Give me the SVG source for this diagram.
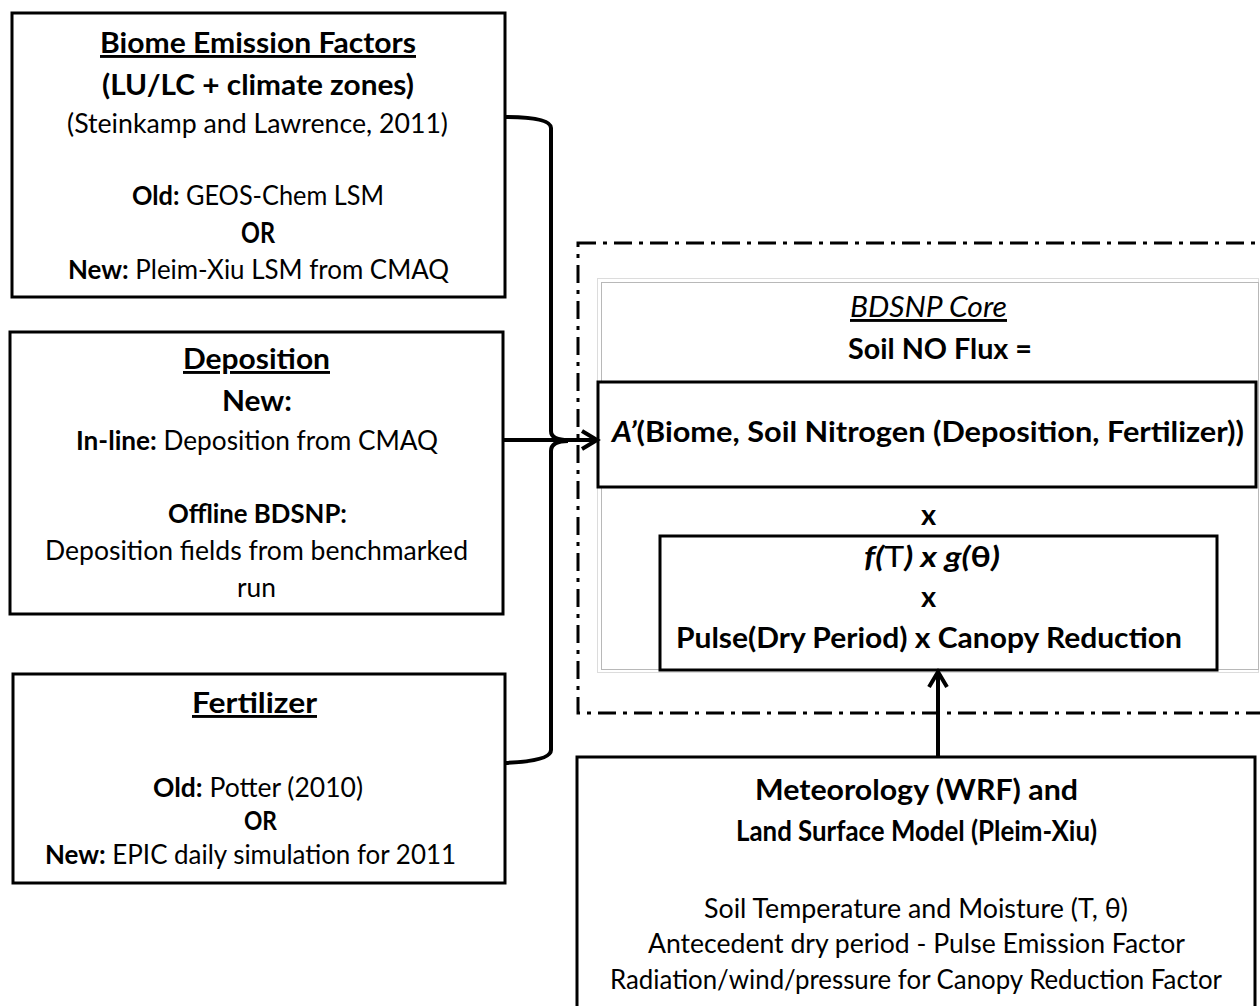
<svg xmlns="http://www.w3.org/2000/svg" width="1260" height="1006" viewBox="0 0 1260 1006">
<defs>
<style>
.box{fill:#fff;stroke:#000;stroke-width:3}
.t{font-family:Lato,'Open Sans','Liberation Sans',sans-serif;fill:#000}
.r{font-size:26px}
.b{font-size:29px;font-weight:bold}
.u{text-decoration:underline}
.bo{font-weight:bold}
.conn{fill:none;stroke:#000;stroke-width:4}
</style>
<marker id="arr" markerUnits="userSpaceOnUse" markerWidth="24" markerHeight="24" viewBox="-20 -12 24 24" refX="0" refY="0" orient="auto">
<path d="M-15,-9 L0,0 L-15,9" fill="none" stroke="#000" stroke-width="4"/>
</marker>
</defs>
<rect width="1260" height="1006" fill="#fff"/>

<g id="core-frame">
<rect x="578" y="243" width="720" height="470" fill="none" stroke="#000" stroke-width="3" stroke-dasharray="18 7 4 7"/>
<rect x="597.5" y="278.5" width="661" height="394" fill="none" stroke="#dcdcdc" stroke-width="1"/>
<rect x="601.5" y="282.5" width="657" height="387" fill="none" stroke="#b8b8b8" stroke-width="1"/>
<text class="t u" x="850" y="317" font-size="29" font-style="italic" textLength="157" lengthAdjust="spacingAndGlyphs">BDSNP Core</text>
<text class="t b" x="848" y="359" textLength="184" lengthAdjust="spacingAndGlyphs">Soil NO Flux =</text>
<text class="t b" x="921" y="525">x</text>
</g>

<g id="biome">
<rect class="box" x="12" y="13" width="493" height="284"/>
<text class="t b u" x="100" y="53" textLength="316" lengthAdjust="spacingAndGlyphs">Biome Emission Factors</text>
<text class="t b" x="102" y="95" textLength="312" lengthAdjust="spacingAndGlyphs">(LU/LC + climate zones)</text>
<text class="t r" x="67" y="133" textLength="381" lengthAdjust="spacingAndGlyphs">(Steinkamp and Lawrence, 2011)</text>
<text class="t r" x="132" y="205" textLength="252" lengthAdjust="spacingAndGlyphs"><tspan class="bo">Old:</tspan> GEOS-Chem LSM</text>
<text class="t b" x="241" y="243" textLength="34" lengthAdjust="spacingAndGlyphs">OR</text>
<text class="t r" x="68" y="279" textLength="381" lengthAdjust="spacingAndGlyphs"><tspan class="bo">New:</tspan> Pleim-Xiu LSM from CMAQ</text>
</g>

<g id="deposition">
<rect class="box" x="10" y="332" width="493" height="282"/>
<text class="t b u" x="183" y="369" textLength="147" lengthAdjust="spacingAndGlyphs">Deposition</text>
<text class="t b" x="222" y="411" textLength="70" lengthAdjust="spacingAndGlyphs">New:</text>
<text class="t r" x="76" y="450" textLength="362" lengthAdjust="spacingAndGlyphs"><tspan class="bo">In-line:</tspan> Deposition from CMAQ</text>
<text class="t r bo" x="168" y="523" textLength="179" lengthAdjust="spacingAndGlyphs">Offline BDSNP:</text>
<text class="t r" x="45" y="560" textLength="423" lengthAdjust="spacingAndGlyphs">Deposition fields from benchmarked</text>
<text class="t r" x="237" y="597" textLength="39" lengthAdjust="spacingAndGlyphs">run</text>
</g>

<g id="fertilizer">
<rect class="box" x="13" y="674" width="492" height="209"/>
<text class="t b u" x="192" y="713" textLength="125" lengthAdjust="spacingAndGlyphs">Fertilizer</text>
<text class="t r" x="153" y="797" textLength="210" lengthAdjust="spacingAndGlyphs"><tspan class="bo">Old:</tspan> Potter (2010)</text>
<text class="t r bo" x="244" y="830" textLength="33" lengthAdjust="spacingAndGlyphs">OR</text>
<text class="t r" x="45" y="864" textLength="411" lengthAdjust="spacingAndGlyphs"><tspan class="bo">New:</tspan> EPIC daily simulation for 2011</text>
</g>

<g id="a-prime">
<rect class="box" x="598" y="382" width="658" height="105"/>
<text class="t b" x="612" y="442" font-size="30" textLength="632" lengthAdjust="spacingAndGlyphs"><tspan font-style="italic">A’</tspan>(Biome, Soil Nitrogen (Deposition, Fertilizer))</text>
</g>

<g id="factors">
<rect class="box" x="660" y="536" width="557" height="134"/>
<text class="t b" x="864" y="567" textLength="136" lengthAdjust="spacingAndGlyphs"><tspan font-style="italic">f(</tspan><tspan font-weight="normal">T</tspan><tspan font-style="italic">) x g(</tspan>θ<tspan font-style="italic">)</tspan></text>
<text class="t b" x="921" y="607">x</text>
<text class="t b" x="676" y="648" textLength="506" lengthAdjust="spacingAndGlyphs">Pulse(Dry Period) x Canopy Reduction</text>
</g>

<g id="meteorology">
<rect class="box" x="577" y="757" width="678" height="270"/>
<text class="t b" x="755" y="800" textLength="323" lengthAdjust="spacingAndGlyphs">Meteorology (WRF) and</text>
<text class="t b" x="736" y="841" textLength="361" lengthAdjust="spacingAndGlyphs">Land Surface Model (Pleim-Xiu)</text>
<text class="t r" x="704" y="918" textLength="424" lengthAdjust="spacingAndGlyphs">Soil Temperature and Moisture (T, θ)</text>
<text class="t r" x="648" y="953" textLength="537" lengthAdjust="spacingAndGlyphs">Antecedent dry period - Pulse Emission Factor</text>
<text class="t r" x="610" y="989" textLength="612" lengthAdjust="spacingAndGlyphs">Radiation/wind/pressure for Canopy Reduction Factor</text>
</g>

<g id="connectors">
<path class="conn" d="M505,117 Q551,117 551,128 L551,431 Q551,440 568,440"/>
<path class="conn" d="M568,441 Q551,441 551,451 L551,750 Q551,761 505,763"/>
<line class="conn" x1="503" y1="440" x2="597" y2="440" marker-end="url(#arr)"/>
<line class="conn" x1="938" y1="757" x2="938" y2="672" marker-end="url(#arr)"/>
</g>
</svg>
